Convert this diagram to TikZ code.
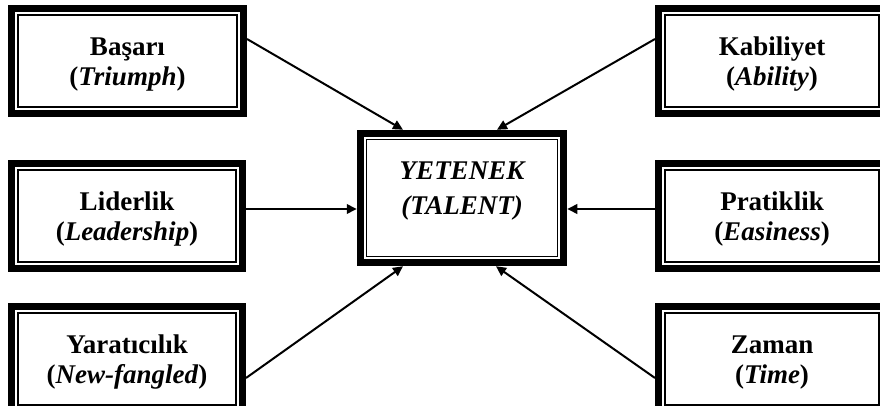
\documentclass[tikz,border=0pt]{standalone}
\usepackage{fontspec}
\setmainfont{Liberation Serif}
\usetikzlibrary{arrows.meta}
\tikzset{
  boxfont/.style={font=\fontsize{27}{30}\selectfont\bfseries},
  sidebox/.style={draw, line width=7pt, minimum width=#1, minimum height=105pt,
    inner sep=0pt, align=center, boxfont},
  centerbox/.style={draw, line width=7.5pt, minimum width=203pt, minimum height=129pt,
    inner sep=0pt, align=center, font=\fontsize{27}{35}\selectfont\bfseries\itshape},
  innerline/.style={draw, line width=1.6pt},
  conn/.style={line width=2pt, -{Triangle[length=10pt,width=9.5pt]}},
}
\begin{document}
\begin{tikzpicture}[x=1pt,y=-1pt]
\fill[white] (0,0) rectangle (880,406);
\clip (0,0) rectangle (880,406);
% left column
\node[sidebox=232pt] (TL) at (127.5,61) {\rule{0pt}{24pt}Başarı\\(\textit{Triumph})};
\node[sidebox=231pt] (ML) at (127,216) {\rule{0pt}{24pt}Liderlik\\(\textit{Leadership})};
\node[sidebox=231pt] (BL) at (127,359) {\rule{0pt}{24pt}Yaratıcılık\\(\textit{New-fangled})};
% right column
\node[sidebox=227pt] (TR) at (772,61) {\rule{0pt}{24pt}Kabiliyet\\(\textit{Ability})};
\node[sidebox=227pt] (MR) at (772,216) {\rule{0pt}{24pt}Pratiklik\\(\textit{Easiness})};
\node[sidebox=227pt] (BR) at (772,359) {\rule{0pt}{24pt}Zaman\\(\textit{Time})};
% center
\node[centerbox] (C) at (462,198) {YETENEK\\(TALENT)\rule[-19pt]{0pt}{0pt}};
% inner thin frames
\foreach \n in {TL,ML,BL,TR,MR,BR,C}
  \draw[innerline] ([shift={(9.8pt,9.8pt)}]\n.south west) rectangle ([shift={(-9.8pt,-9.8pt)}]\n.north east);
% connectors
\draw[conn] ([yshift=22pt]TL.east) -- ([xshift=-59pt]C.north);
\draw[conn] ([yshift=22pt]TR.west) -- ([xshift=35pt]C.north);
\draw[conn] ([yshift=7pt]ML.east) -- ([yshift=-11pt]C.west);
\draw[conn] ([yshift=7pt]MR.west) -- ([yshift=-11pt]C.east);
\draw[conn] ([yshift=-19pt]BL.east) -- ([xshift=-59pt]C.south);
\draw[conn] ([yshift=-19pt]BR.west) -- ([xshift=34pt]C.south);
\end{tikzpicture}
\end{document}
